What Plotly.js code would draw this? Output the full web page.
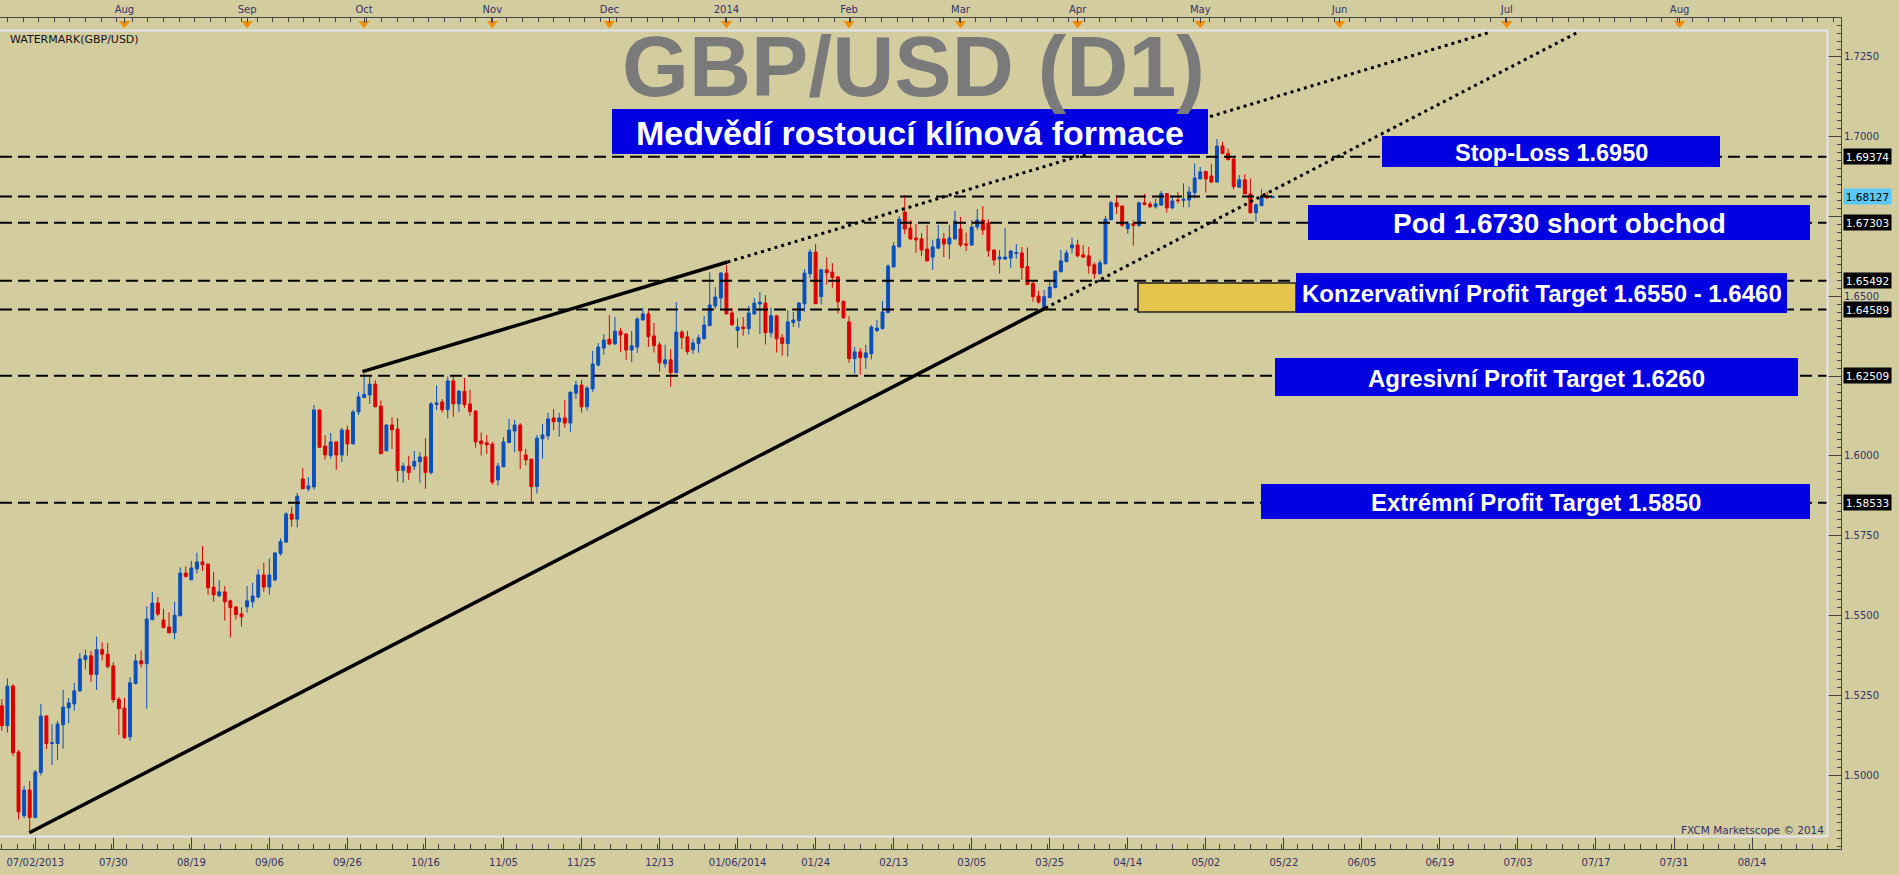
<!DOCTYPE html>
<html><head><meta charset="utf-8">
<script src="https://cdn.plot.ly/plotly-3.0.1.min.js"></script>
<style>html,body{margin:0;padding:0;background:#d3cc9f;}#chart{width:1899px;height:875px;}</style>
</head><body><div id="chart"></div>
<script>
// ---------------- DATA (GBP/USD daily, bar index 0 = 07/02/2013) ----------------
const opens = [
1.5217,1.5155,1.5279,1.5072,1.4873,1.4953,1.4867,1.5008,1.5185,1.5099,
1.5099,1.5158,1.5211,1.5223,1.5264,1.5362,1.5374,1.5315,1.5393,1.5379,
1.5342,1.5237,1.5210,1.5120,1.5287,1.5358,1.5349,1.5487,1.5539,1.5486,
1.5464,1.5446,1.5499,1.5633,1.5612,1.5646,1.5668,1.5661,1.5589,1.5562,
1.5574,1.5546,1.5527,1.5505,1.5527,1.5543,1.5558,1.5627,1.5589,1.5611,
1.5694,1.5730,1.5818,1.5802,1.5928,1.5897,1.5903,1.6144,1.6031,1.6001,
1.6044,1.6003,1.6081,1.6038,1.6138,1.6183,1.6191,1.6225,1.6156,1.6016,
1.6097,1.6084,1.5954,1.5968,1.5968,1.5982,1.5997,1.5948,1.6161,1.6169,
1.6145,1.6235,1.6163,1.6203,1.6163,1.6141,1.6047,1.6041,1.6037,1.5925,
1.5966,1.6042,1.6078,1.6097,1.6003,1.5990,1.5904,1.6054,1.6063,1.6119,
1.6107,1.6119,1.6103,1.6197,1.6222,1.6154,1.6210,1.6285,1.6338,1.6366,
1.6351,1.6391,1.6382,1.6332,1.6341,1.6426,1.6445,1.6376,1.6348,1.6289,
1.6301,1.6261,1.6388,1.6373,1.6333,1.6352,1.6367,1.6408,1.6470,1.6495,
1.6573,1.6448,1.6393,1.6404,1.6399,1.6445,1.6476,1.6479,1.6386,1.6439,
1.6370,1.6352,1.6418,1.6424,1.6477,1.6571,1.6639,1.6499,1.6583,1.6576,
1.6561,1.6485,1.6420,1.6305,1.6326,1.6308,1.6320,1.6393,1.6399,1.6449,
1.6592,1.6655,1.6764,1.6714,1.6683,1.6680,1.6648,1.6623,1.6651,1.6680,
1.6664,1.6680,1.6711,1.6664,1.6661,1.6717,1.6739,1.6730,1.6645,1.6617,
1.6617,1.6620,1.6634,1.6636,1.6593,1.6540,1.6501,1.6467,1.6496,1.6527,
1.6577,1.6609,1.6652,1.6661,1.6630,1.6627,1.6599,1.6571,1.6602,1.6740,
1.6793,1.6783,1.6712,1.6728,1.6722,1.6793,1.6789,1.6781,1.6786,1.6822,
1.6777,1.6802,1.6801,1.6802,1.6825,1.6868,1.6891,1.6877,1.6858,1.6971,
1.6948,1.6930,1.6842,1.6865,1.6821,1.6762,1.6784,1.6813,1.6810];
const highs = [
1.5238,1.5303,1.5285,1.5079,1.4966,1.4982,1.5016,1.5223,1.5188,1.5159,
1.5170,1.5267,1.5242,1.5289,1.5383,1.5393,1.5389,1.5434,1.5416,1.5414,
1.5354,1.5245,1.5242,1.5307,1.5379,1.5391,1.5529,1.5574,1.5558,1.5521,
1.5510,1.5543,1.5651,1.5654,1.5671,1.5697,1.5718,1.5664,1.5636,1.5610,
1.5592,1.5550,1.5530,1.5526,1.5592,1.5602,1.5645,1.5665,1.5679,1.5698,
1.5742,1.5825,1.5841,1.5884,1.5962,1.5934,1.6160,1.6146,1.6065,1.6072,
1.6046,1.6088,1.6095,1.6145,1.6200,1.6258,1.6250,1.6237,1.6174,1.6098,
1.6121,1.6118,1.5979,1.6000,1.6015,1.6011,1.6056,1.6169,1.6221,1.6178,
1.6249,1.6253,1.6206,1.6244,1.6207,1.6142,1.6074,1.6066,1.6044,1.5978,
1.6059,1.6116,1.6113,1.6103,1.6022,1.5991,1.6066,1.6100,1.6135,1.6147,
1.6135,1.6175,1.6201,1.6235,1.6238,1.6219,1.6329,1.6354,1.6382,1.6442,
1.6435,1.6401,1.6384,1.6391,1.6435,1.6464,1.6454,1.6417,1.6357,1.6348,
1.6335,1.6482,1.6395,1.6392,1.6367,1.6380,1.6439,1.6576,1.6529,1.6576,
1.6598,1.6464,1.6432,1.6435,1.6470,1.6495,1.6514,1.6504,1.6464,1.6442,
1.6382,1.6457,1.6451,1.6482,1.6585,1.6648,1.6664,1.6586,1.6623,1.6604,
1.6564,1.6486,1.6439,1.6341,1.6338,1.6348,1.6410,1.6426,1.6485,1.6601,
1.6670,1.6752,1.6818,1.6739,1.6727,1.6698,1.6724,1.6677,1.6724,1.6698,
1.6724,1.6767,1.6749,1.6700,1.6739,1.6774,1.6783,1.6741,1.6647,1.6645,
1.6714,1.6645,1.6664,1.6655,1.6653,1.6549,1.6518,1.6520,1.6545,1.6580,
1.6645,1.6645,1.6683,1.6677,1.6661,1.6655,1.6606,1.6614,1.6752,1.6799,
1.6818,1.6784,1.6736,1.6739,1.6797,1.6821,1.6797,1.6806,1.6831,1.6823,
1.6812,1.6827,1.6854,1.6844,1.6917,1.6906,1.6894,1.6915,1.6993,1.6984,
1.6963,1.6936,1.6880,1.6883,1.6869,1.6791,1.6835,1.6828,1.6815];
const lows = [
1.5139,1.5133,1.5060,1.4861,1.4865,1.4826,1.4865,1.4999,1.5081,1.5032,
1.5048,1.5083,1.5162,1.5202,1.5260,1.5331,1.5292,1.5267,1.5359,1.5334,
1.5227,1.5126,1.5113,1.5108,1.5284,1.5337,1.5208,1.5485,1.5498,1.5460,
1.5444,1.5425,1.5499,1.5620,1.5611,1.5631,1.5640,1.5565,1.5543,1.5558,
1.5484,1.5431,1.5487,1.5465,1.5509,1.5525,1.5554,1.5573,1.5565,1.5610,
1.5688,1.5728,1.5778,1.5776,1.5896,1.5889,1.5894,1.6025,1.5989,1.5992,
1.5956,1.5981,1.6001,1.6036,1.6128,1.6182,1.6163,1.6153,1.6006,1.6015,
1.6022,1.5919,1.5916,1.5925,1.5956,1.5916,1.5897,1.5942,1.6144,1.6136,
1.6117,1.6123,1.6139,1.6151,1.6126,1.6026,1.6001,1.6006,1.5910,1.5907,
1.5965,1.6040,1.6012,1.5959,1.5970,1.5855,1.5882,1.5991,1.6051,1.6081,
1.6060,1.6089,1.6075,1.6179,1.6136,1.6142,1.6201,1.6280,1.6317,1.6346,
1.6348,1.6326,1.6301,1.6294,1.6323,1.6425,1.6341,1.6324,1.6264,1.6277,
1.6217,1.6260,1.6335,1.6318,1.6320,1.6323,1.6366,1.6407,1.6461,1.6462,
1.6444,1.6408,1.6338,1.6377,1.6380,1.6442,1.6382,1.6349,1.6371,1.6324,
1.6314,1.6311,1.6404,1.6402,1.6452,1.6557,1.6476,1.6474,1.6537,1.6527,
1.6446,1.6430,1.6292,1.6258,1.6255,1.6273,1.6302,1.6388,1.6396,1.6448,
1.6591,1.6654,1.6695,1.6677,1.6636,1.6626,1.6610,1.6583,1.6650,1.6623,
1.6617,1.6677,1.6655,1.6642,1.6658,1.6708,1.6692,1.6624,1.6596,1.6571,
1.6614,1.6590,1.6618,1.6552,1.6536,1.6483,1.6477,1.6462,1.6495,1.6526,
1.6575,1.6607,1.6635,1.6622,1.6621,1.6571,1.6555,1.6568,1.6601,1.6739,
1.6758,1.6718,1.6696,1.6659,1.6718,1.6785,1.6777,1.6775,1.6783,1.6762,
1.6773,1.6791,1.6779,1.6779,1.6807,1.6867,1.6825,1.6856,1.6856,1.6946,
1.6925,1.6835,1.6841,1.6821,1.6760,1.6734,1.6783,1.6806,1.6808];
const closes = [
1.5155,1.5279,1.5070,1.4885,1.4953,1.4867,1.5010,1.5185,1.5099,1.5101,
1.5160,1.5213,1.5226,1.5264,1.5364,1.5374,1.5315,1.5393,1.5379,1.5340,
1.5236,1.5208,1.5118,1.5289,1.5358,1.5349,1.5489,1.5539,1.5505,1.5462,
1.5446,1.5501,1.5633,1.5622,1.5649,1.5668,1.5659,1.5587,1.5565,1.5574,
1.5543,1.5525,1.5503,1.5496,1.5546,1.5561,1.5627,1.5589,1.5627,1.5696,
1.5732,1.5818,1.5802,1.5874,1.5897,1.5906,1.6144,1.6027,1.6003,1.6044,
1.6003,1.6081,1.6038,1.6138,1.6185,1.6193,1.6225,1.6154,1.6007,1.6097,
1.6082,1.5954,1.5968,1.5948,1.5983,1.5997,1.5948,1.6163,1.6166,1.6145,
1.6235,1.6163,1.6203,1.6161,1.6139,1.6044,1.6038,1.6035,1.5918,1.5968,
1.6044,1.6081,1.6097,1.6016,1.5988,1.5904,1.6056,1.6066,1.6116,1.6107,
1.6119,1.6103,1.6200,1.6222,1.6154,1.6213,1.6288,1.6341,1.6363,1.6351,
1.6391,1.6379,1.6332,1.6345,1.6429,1.6445,1.6374,1.6346,1.6292,1.6301,
1.6261,1.6388,1.6371,1.6327,1.6354,1.6370,1.6410,1.6473,1.6498,1.6573,
1.6445,1.6411,1.6404,1.6399,1.6448,1.6479,1.6482,1.6386,1.6439,1.6367,
1.6352,1.6420,1.6426,1.6479,1.6573,1.6639,1.6477,1.6583,1.6574,1.6559,
1.6483,1.6433,1.6305,1.6326,1.6308,1.6323,1.6404,1.6401,1.6451,1.6595,
1.6658,1.6742,1.6711,1.6680,1.6677,1.6645,1.6611,1.6655,1.6680,1.6664,
1.6683,1.6736,1.6661,1.6661,1.6717,1.6739,1.6708,1.6643,1.6614,1.6623,
1.6623,1.6642,1.6637,1.6590,1.6537,1.6499,1.6482,1.6499,1.6529,1.6579,
1.6611,1.6636,1.6661,1.6627,1.6623,1.6596,1.6571,1.6605,1.6742,1.6793,
1.6781,1.6723,1.6728,1.6722,1.6793,1.6788,1.6781,1.6790,1.6822,1.6777,
1.6799,1.6800,1.6805,1.6827,1.6871,1.6890,1.6868,1.6858,1.6971,1.6948,
1.6929,1.6844,1.6865,1.6821,1.6762,1.6787,1.6809,1.6809,1.6813];

const bottomTickIdx = [6,20,34,48,62,76,90,104,118,132,146,160,174,188,202,216,230,244,258,272,286,300,314];
const bottomTickLbl = ['07/02/2013','07/30','08/19','09/06','09/26','10/16','11/05','11/25','12/13','01/06/2014','01/24','02/13','03/05','03/25','04/14','05/02','05/22','06/05','06/19','07/03','07/17','07/31','08/14'];
const monthIdx = [22,44,65,88,109,130,152,172,193,215,240,270,301];
const monthLbl = ['Aug','Sep','Oct','Nov','Dec','2014','Feb','Mar','Apr','May','Jun','Jul','Aug'];
const priceTickVals = [1.5000,1.5250,1.5500,1.5750,1.6000,1.6250,1.6500,1.6750,1.7000,1.7250];
const priceTickLbl  = ['1.5000','1.5250','1.5500','1.5750','1.6000','','1.6500','','1.7000','1.7250'];
const levelValues = [1.69374,1.68127,1.67303,1.65492,1.64589,1.62509,1.58533];
const currentPrice = 1.68127;

// trend line anchors (bar index, price)
const lowerLineIdx = [4.93, 187.2], lowerLinePx = [1.48195, 1.6463];
const lowerDotIdx  = [187.2, 282.7], lowerDotPx  = [1.6463, 1.7327];
const upperLineIdx = [64.7, 130.2], upperLinePx = [1.6264, 1.66075];
const upperDotIdx  = [130.2, 266.9], upperDotPx  = [1.66075, 1.73272];

const titleText = 'GBP/USD (D1)';
const boxLabels = ['Medvědí rostoucí klínová formace','Stop-Loss 1.6950','Pod 1.6730 short obchod',
  'Konzervativní Profit Target 1.6550 - 1.6460','Agresivní Profit Target 1.6260','Extrémní Profit Target 1.5850'];

// ---------------- GEOMETRY ----------------
const W = 1899, H = 875;
const PL = 1841, PT = 18, PB = 849;            // plot area pixels
const BAR_PX = 5.574, BAR0 = 1.82;             // bar spacing
const P_PX = 3191.6, P0 = 5562.5;              // price scale (px = P0 - P_PX*price)
const xRange = [(0 - BAR0) / BAR_PX, (PL - BAR0) / BAR_PX];
const yRange = [(P0 - PB) / P_PX, (P0 - PT) / P_PX];
const pxX = x => x / PL;
const pxY = y => (PB - y) / (PB - PT);
const priceAtPx = y => (P0 - y) / P_PX;

const FR = '#e3e6ee';
const shapes = [];
levelValues.forEach(v => shapes.push({type:'line', xref:'paper', yref:'y', x0:0, x1:pxX(1827.5), y0:v, y1:v,
  line:{color:'#000', width:2, dash:'12px,6px'}, layer:'above'}));
shapes.push({type:'line', xref:'paper', yref:'paper', x0:0, x1:pxX(1828), y0:pxY(30.5), y1:pxY(30.5), line:{color:FR, width:2}});
shapes.push({type:'line', xref:'paper', yref:'paper', x0:0, x1:pxX(1828), y0:pxY(836.5), y1:pxY(836.5), line:{color:FR, width:2}});
shapes.push({type:'line', xref:'paper', yref:'paper', x0:pxX(1827.5), x1:pxX(1827.5), y0:pxY(30.5), y1:pxY(836.5), line:{color:FR, width:2}});

const annotations = [];
const BLUE = '#0000e0';
function box(x0, y0, x1, y1, fill, border) {
  shapes.push({type:'rect', xref:'paper', yref:'paper', x0:pxX(x0), x1:pxX(x1), y0:pxY(y1), y1:pxY(y0),
    fillcolor:fill, line:{color:border || fill, width: border ? 1.5 : 0}, layer:'above'});
}
function label(text, cx, cy, size, color, weight, anchor) {
  annotations.push({xref:'paper', yref:'paper', x:pxX(cx), y:pxY(cy), text:text, showarrow:false,
    xanchor: anchor || 'center', yanchor:'middle',
    font:{family:'Liberation Sans, Arial, sans-serif', size:size, color:color, weight:weight || 'bold'}});
}
label(titleText, 913, 66, 86, '#7a7a7a');
const boxes = [
  [612, 109, 1208, 154, 34],
  [1382, 136, 1720, 167, 23.5],
  [1308, 205, 1810, 240, 28],
  [1296, 273, 1787, 313, 24],
  [1275, 358, 1798, 396, 24],
  [1261, 484, 1810, 519, 24]
];
box(1138, 283, 1296, 312, '#e6c54c', '#222');
boxes.forEach((b, k) => { box(b[0], b[1], b[2], b[3], BLUE); label(boxLabels[k], (b[0]+b[2])/2, (b[1]+b[3])/2 + 1, b[4], '#fff'); });

levelValues.forEach(v => {
  const cur = Math.abs(v - currentPrice) < 1e-9;
  annotations.push({xref:'paper', yref:'y', x:pxX(1843), y:v, xanchor:'left', yanchor:'middle', showarrow:false,
    text:v.toFixed(5), bgcolor: cur ? '#5cc8f8' : '#000', borderpad:1, width:45, height:13,
    font:{family:'DejaVu Sans, Verdana, sans-serif', size:10.5, color: cur ? '#000' : '#fff'}});
});
annotations.push({xref:'paper', yref:'paper', x:pxX(8), y:pxY(39), xanchor:'left', yanchor:'middle', showarrow:false,
  text:'WATERMARK(GBP/USD)', font:{family:'DejaVu Sans, Verdana, sans-serif', size:11, color:'#111'}});
annotations.push({xref:'paper', yref:'paper', x:pxX(1826), y:pxY(830), xanchor:'right', yanchor:'middle', showarrow:false,
  text:'FXCM Marketscope © 2014', font:{family:'DejaVu Sans, Verdana, sans-serif', size:10.5, color:'#333366'}});

// ---------------- TRACES ----------------
const barIdx = opens.map((_, i) => i);
const candles = {
  type:'candlestick', x:barIdx, open:opens, high:highs, low:lows, close:closes,
  increasing:{line:{color:'#0a50bd', width:1}, fillcolor:'#0a50bd'},
  decreasing:{line:{color:'#dd0000', width:1}, fillcolor:'#dd0000'},
  whiskerwidth:0, hoverinfo:'skip', showlegend:false
};
const lineT = (xs, ys, dash, w) => ({type:'scatter', mode:'lines', x:xs, y:ys, hoverinfo:'skip', showlegend:false,
  line:{color:'#000', width:w, dash:dash}});
const triY = priceAtPx(23.5);
const triangles = {type:'scatter', mode:'markers', xaxis:'x2', x:monthIdx, y:monthIdx.map(() => triY),
  marker:{symbol:'triangle-down', size:10, color:'#f0900a', line:{width:0}}, cliponaxis:false, hoverinfo:'skip', showlegend:false};

const data = [candles,
  lineT(lowerLineIdx, lowerLinePx, 'solid', 3.5),
  lineT(upperLineIdx, upperLinePx, 'solid', 3.5),
  lineT(lowerDotIdx, lowerDotPx, '3px,4px', 3),
  lineT(upperDotIdx, upperDotPx, '3px,4px', 3),
  triangles];

const tickFont = {family:'DejaVu Sans, Verdana, sans-serif', size:10, color:'#333366'};
const axCol = '#444';
const minorBottom = [], minorTop = [];
for (let v = 0; v <= 330; v += 2.8) minorBottom.push(v);
for (let v = 1; v <= 330; v += 2.8) minorTop.push(v);

const layout = {
  width:W, height:H, margin:{l:0, r:W-PL, t:PT, b:H-PB, pad:0},
  paper_bgcolor:'#d3cc9f', plot_bgcolor:'#d3cc9f', showlegend:false, dragmode:false,
  boxgap:0.25,
  xaxis:{range:xRange, fixedrange:true, showgrid:false, zeroline:false, showline:true, linecolor:axCol, linewidth:1,
    ticks:'inside', ticklen:13, tickcolor:axCol, tickwidth:1, tickmode:'array', tickvals:bottomTickIdx, ticktext:bottomTickLbl,
    tickfont:tickFont, ticklabelstandoff:4,
    minor:{ticks:'inside', ticklen:5, tickcolor:axCol, tickmode:'array', tickvals:minorBottom, showgrid:false},
    rangeslider:{visible:false}},
  xaxis2:{overlaying:'x', side:'top', anchor:'y', range:xRange, fixedrange:true, showgrid:false, zeroline:false,
    showline:true, linecolor:axCol, linewidth:1, ticks:'inside', ticklen:5, tickcolor:axCol,
    tickmode:'array', tickvals:monthIdx, ticktext:monthLbl, tickfont:tickFont,
    minor:{ticks:'inside', ticklen:4, tickcolor:axCol, tickmode:'array', tickvals:minorTop, showgrid:false}},
  yaxis:{side:'right', range:yRange, fixedrange:true, showgrid:false, zeroline:false, showline:true, linecolor:axCol, linewidth:1,
    ticks:'inside', ticklen:14, tickcolor:axCol, tickmode:'array', tickvals:priceTickVals, ticktext:priceTickLbl, tickfont:tickFont,
    minor:{ticks:'inside', ticklen:4, tickcolor:axCol, dtick:0.0025, tick0:1.5, showgrid:false}},
  shapes:shapes, annotations:annotations
};
Plotly.newPlot('chart', data, layout, {displayModeBar:false, staticPlot:true});
</script></body></html>
